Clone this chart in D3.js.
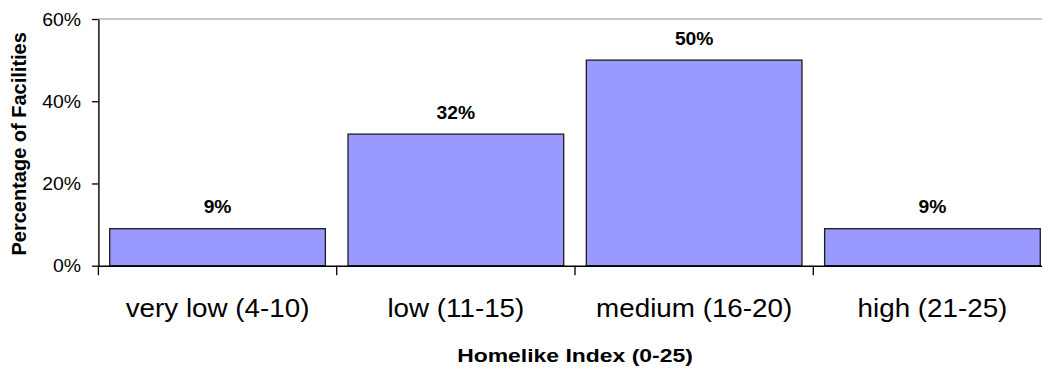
<!DOCTYPE html>
<html>
<head>
<meta charset="utf-8">
<script src="https://cdn.jsdelivr.net/npm/d3@7"></script>
<style>
  html, body { margin: 0; padding: 0; background: #fff; }
  svg { display: block; font-family: "Liberation Sans", Arial, sans-serif; }
</style>
</head>
<body>
<svg id="chart" width="1042" height="368"></svg>
<script>
// Share of facilities in each homelike-index band
const categories = ["very low (4-10)", "low (11-15)", "medium (16-20)", "high (21-25)"];
const values = [9, 32, 50, 9];
const yTicks = [0, 20, 40, 60];
const yTitle = "Percentage of Facilities";
const xTitle = "Homelike Index (0-25)";

const svg = d3.select("#chart");

const plot = { left: 98.4, right: 1051.6, top: 19, bottom: 265.7 };

const x = d3.scaleBand()
  .domain(categories)
  .range([plot.left, plot.right])
  .paddingInner(0.095)
  .paddingOuter(0.0475);

const y = d3.scaleLinear()
  .domain([0, 60])
  .range([plot.bottom, plot.top]);

// top edge of the plot area
svg.append("line")
  .attr("x1", plot.left).attr("x2", plot.right)
  .attr("y1", y(60)).attr("y2", y(60))
  .attr("stroke", "#929292").attr("stroke-width", 1.2);

// bars
svg.append("g").selectAll("rect")
  .data(values)
  .join("rect")
  .attr("x", (d, i) => x(categories[i]))
  .attr("y", d => y(d))
  .attr("width", x.bandwidth())
  .attr("height", d => y(0) - y(d))
  .attr("fill", "#9999FF")
  .attr("stroke", "#1c1c1c")
  .attr("stroke-width", 1.3);

// value labels above bars
svg.append("g").selectAll("text")
  .data(values)
  .join("text")
  .attr("transform", (d, i) =>
    `translate(${x(categories[i]) + x.bandwidth() / 2},${y(d) - 15.6}) scale(1.04,1)`)
  .attr("text-anchor", "middle")
  .attr("font-weight", "bold")
  .attr("font-size", 18.5)
  .attr("fill", "#000")
  .text(d => d + "%");

// y axis
const yAxis = svg.append("g")
  .attr("transform", `translate(${plot.left},0)`)
  .call(d3.axisLeft(y).tickValues(yTicks).tickSize(6.5).tickSizeOuter(0).tickFormat(d => d + "%"));
yAxis.select(".domain").attr("stroke", "#000").attr("stroke-width", 1.4);
yAxis.selectAll(".tick line").attr("stroke", "#000").attr("stroke-width", 1.3);
yAxis.selectAll(".tick text")
  .attr("x", null).attr("dy", null)
  .attr("transform", "translate(-17.3,6.2) scale(1.11,1)")
  .attr("text-anchor", "end")
  .attr("font-size", 17.5)
  .attr("font-family", "Liberation Sans, Arial, sans-serif")
  .attr("fill", "#000");

// x axis with category labels
const xAxis = svg.append("g")
  .attr("transform", `translate(0,${plot.bottom})`)
  .call(d3.axisBottom(x).tickSize(0).tickSizeOuter(0));
xAxis.select(".domain").attr("stroke", "#000").attr("stroke-width", 1.6);
xAxis.selectAll(".tick text")
  .attr("y", null).attr("dy", null)
  .attr("transform", "translate(0,51) scale(1.09,1)")
  .attr("text-anchor", "middle")
  .attr("font-size", 25.5)
  .attr("font-family", "Liberation Sans, Arial, sans-serif")
  .attr("fill", "#000");

// separator ticks between categories
const bounds = d3.range(categories.length + 1)
  .map(i => plot.left + i * x.step());
svg.append("g").selectAll("line")
  .data(bounds)
  .join("line")
  .attr("x1", d => d).attr("x2", d => d)
  .attr("y1", plot.bottom).attr("y2", plot.bottom + 9.5)
  .attr("stroke", "#000").attr("stroke-width", 1.3);

// axis titles
svg.append("text")
  .attr("transform", `translate(25.7,${(plot.top + plot.bottom) / 2 + 1.5}) rotate(-90)`)
  .attr("text-anchor", "middle")
  .attr("font-weight", "bold")
  .attr("font-size", 20)
  .attr("fill", "#000")
  .text(yTitle);

svg.append("text")
  .attr("transform", `translate(${(plot.left + plot.right) / 2},362.3) scale(1.24,1)`)
  .attr("text-anchor", "middle")
  .attr("font-weight", "bold")
  .attr("font-size", 18.5)
  .attr("fill", "#000")
  .text(xTitle);
</script>
</body>
</html>
